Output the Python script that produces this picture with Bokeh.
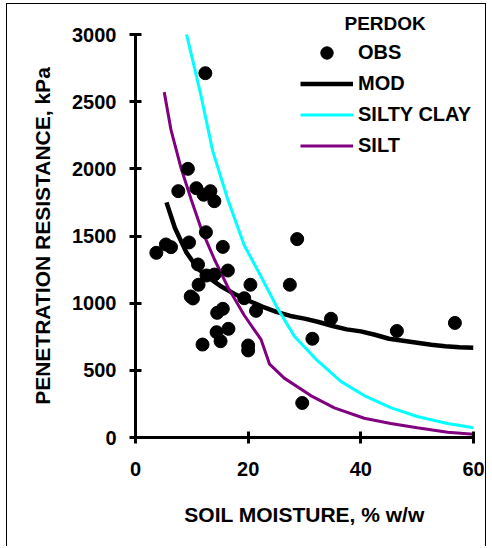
from bokeh.plotting import figure
from bokeh.models import FixedTicker, Legend, LegendItem, Range1d
from bokeh.embed import file_html
from bokeh.resources import INLINE

# Observed points (soil moisture %, penetration resistance kPa)
obs_x = [9.3, 7.6, 10.8, 12.1, 13.3, 14.0, 12.5, 3.7, 5.4, 6.3, 9.5, 15.5, 16.4,
         11.1, 12.6, 14.0, 11.2, 9.8, 10.2, 20.4, 19.3, 21.4, 14.5, 15.5, 14.4,
         15.1, 16.5, 11.9, 20.0, 20.0, 27.4, 28.7, 31.4, 29.6, 12.4, 34.7, 46.4, 56.7]
obs_y = [2000, 1834, 1856, 1807, 1834, 1759, 1528, 1375, 1437, 1417, 1452, 1419, 1243,
         1288, 1206, 1213, 1137, 1050, 1035, 1137, 1037, 943, 928, 958, 784,
         717, 809, 692, 685, 648, 1137, 1477, 735, 257, 2712, 884, 793, 853]

mod_x = [5.5, 7, 9, 11, 13, 15, 17.5, 20, 22.5, 25, 27.5, 30, 32.5, 35, 37.5, 40,
         42.5, 45, 47.5, 50, 52.5, 55, 57.5, 60]
mod_y = [1750, 1560, 1380, 1260, 1190, 1130, 1070, 1020, 975, 935, 905, 885, 860,
         830, 805, 790, 765, 735, 720, 705, 690, 680, 672, 668]

clay_x = [8.6, 11.6, 13.7, 16.4, 19.3, 22.3, 25.2, 28.2, 32.3, 36.5, 40.6, 45.3, 50.0, 55.4, 60]
clay_y = [3084, 2550, 2134, 1770, 1431, 1197, 963, 754, 572, 416, 312, 222, 156, 104, 72]

silt_x = [5.1, 6.3, 8.1, 9.9, 11.6, 14.0, 16.4, 19.3, 22.3, 23.8, 26.4, 31.1, 35.3,
          40.6, 45.3, 50.0, 55.4, 60]
silt_y = [2571, 2290, 2004, 1770, 1561, 1327, 1119, 910, 728, 546, 442, 312, 221,
          143, 104, 72, 39, 25]

x_ticks = [0, 20, 40, 60]
y_ticks = [0, 500, 1000, 1500, 2000, 2500, 3000]

FONT = "Liberation Sans"

p = figure(width=480, height=543, output_backend="svg", toolbar_location=None,
           x_range=Range1d(0, 60), y_range=Range1d(0, 3000),
           min_border_left=128, min_border_right=14, min_border_top=30,
           min_border_bottom=110)
p.styles = {"margin-left": "6px", "margin-top": "3px",
            "border-left": "1.5px solid black", "border-top": "1.5px solid black",
            "border-right": "1.5px solid black"}
p.background_fill_color = "white"
p.border_fill_color = "white"
p.outline_line_color = None
p.grid.visible = False

r_mod = p.line(mod_x, mod_y, line_color="black", line_width=4.5)
r_clay = p.line(clay_x, clay_y, line_color="#00FFFF", line_width=3)
r_silt = p.line(silt_x, silt_y, line_color="#800080", line_width=3)
r_obs = p.scatter(obs_x, obs_y, marker="circle", size=13, fill_color="black",
                  line_color="black")

for ax in (p.xaxis[0], p.yaxis[0]):
    ax.axis_line_width = 3
    ax.axis_line_color = "black"
    ax.major_tick_line_width = 3
    ax.major_tick_line_color = "black"
    ax.major_tick_in = 6
    ax.major_tick_out = 6
    ax.minor_tick_line_color = None
    ax.major_label_text_font = FONT
    ax.major_label_text_font_style = "bold"
    ax.major_label_text_font_size = "20px"
    ax.major_label_text_color = "black"
    ax.axis_label_text_font = FONT
    ax.axis_label_text_font_style = "bold"
    ax.axis_label_text_font_size = "21px"
    ax.axis_label_text_color = "black"

p.xaxis.ticker = FixedTicker(ticks=x_ticks)
p.yaxis.ticker = FixedTicker(ticks=y_ticks)
p.xaxis.axis_label = "SOIL MOISTURE, % w/w"
p.yaxis.axis_label = "PENETRATION RESISTANCE, kPa"
p.xaxis.major_label_standoff = 18
p.yaxis.major_label_standoff = 13
p.xaxis.axis_label_standoff = 24
p.yaxis.axis_label_standoff = 15

p.title.text = "PERDOK"
p.title.align = "left"
p.title.offset = 209
p.title.standoff = 2
p.title.text_font = FONT
p.title.text_font_style = "bold"
p.title.text_font_size = "19px"
p.title.text_color = "black"

legend = Legend(items=[
    LegendItem(label="OBS", renderers=[r_obs]),
    LegendItem(label="MOD", renderers=[r_mod]),
    LegendItem(label="SILTY CLAY", renderers=[r_clay]),
    LegendItem(label="SILT", renderers=[r_silt]),
], location=(165, 276.5))
legend.padding = 0
legend.margin = 0
legend.spacing = 0
legend.glyph_width = 53
legend.glyph_height = 31
legend.label_height = 31
legend.label_standoff = 5
legend.label_text_font = FONT
legend.label_text_font_style = "bold"
legend.label_text_font_size = "20px"
legend.label_text_color = "black"
legend.border_line_color = None
legend.background_fill_alpha = 0
p.add_layout(legend)

open("out.html", "w").write(file_html(p, INLINE))
